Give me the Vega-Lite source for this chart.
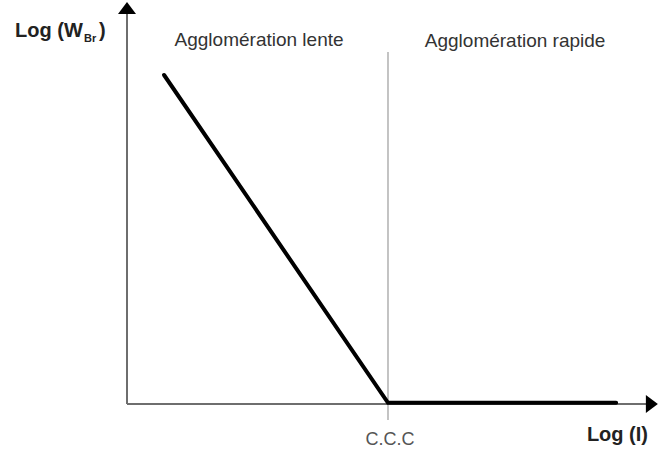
{
  "$schema": "https://vega.github.io/schema/vega-lite/v6.json",
  "width": 658,
  "height": 455,
  "autosize": {"type": "fit", "contains": "padding"},
  "padding": 0,
  "background": "white",
  "config": {"view": {"stroke": null}, "font": "Liberation Sans"},
  "encoding": {
    "x": {"field": "x", "type": "quantitative", "axis": null, "scale": {"domain": [-4.866, 20.345], "nice": false, "zero": false}},
    "y": {"field": "y", "type": "quantitative", "axis": null, "scale": {"domain": [-1.275, 10.1], "nice": false, "zero": false}}
  },
  "layer": [
    {
      "data": {"values": [{"x": 10, "y": -0.4, "x2": 10, "y2": 8.8}]},
      "mark": {"type": "rule", "color": "#b0b0b0", "strokeWidth": 1.5},
      "encoding": {"x2": {"field": "x2"}, "y2": {"field": "y2"}}
    },
    {
      "data": {"values": [{"x": 0, "y": 0, "x2": 20.0, "y2": 0}, {"x": 0, "y": 0, "x2": 0, "y2": 9.75}]},
      "mark": {"type": "rule", "color": "#6e6e6e", "strokeWidth": 2},
      "encoding": {"x2": {"field": "x2"}, "y2": {"field": "y2"}}
    },
    {
      "data": {"values": [{"x": 1.42, "y": 8.225, "o": 1}, {"x": 10, "y": 0.03, "o": 2}, {"x": 18.74, "y": 0.03, "o": 3}]},
      "mark": {"type": "line", "color": "#000000", "strokeWidth": 4, "strokeCap": "round", "strokeJoin": "miter"},
      "encoding": {"order": {"field": "o"}}
    },
    {
      "data": {"values": [{"x": 0, "y": 9.9}]},
      "mark": {"type": "point", "filled": true, "color": "#000000", "opacity": 1, "size": 324, "shape": "M0,-0.667L-1,0.667L1,0.667Z"}
    },
    {
      "data": {"values": [{"x": 20.11, "y": 0}]},
      "mark": {"type": "point", "filled": true, "color": "#000000", "opacity": 1, "size": 324, "shape": "M0.667,0L-0.667,-1L-0.667,1Z"}
    },
    {
      "data": {"values": [{"x": 5.06, "y": 8.95, "label": "Agglomération lente"}, {"x": 14.87, "y": 8.925, "label": "Agglomération rapide"}]},
      "mark": {"type": "text", "fontSize": 19, "color": "#333333", "align": "center", "baseline": "alphabetic"},
      "encoding": {"text": {"field": "label"}}
    },
    {
      "data": {"values": [{"x": 10.08, "y": -1.025, "label": "C.C.C"}]},
      "mark": {"type": "text", "fontSize": 18, "color": "#555555", "align": "center", "baseline": "alphabetic"},
      "encoding": {"text": {"field": "label"}}
    },
    {
      "data": {"values": [{"x": -4.29, "y": 9.175, "label": "Log (W"}, {"x": -1.07, "y": 9.175, "label": ")"}, {"x": 17.62, "y": -0.925, "label": "Log (I)"}]},
      "mark": {"type": "text", "fontSize": 20, "fontWeight": "bold", "color": "#222222", "align": "left", "baseline": "alphabetic"},
      "encoding": {"text": {"field": "label"}}
    },
    {
      "data": {"values": [{"x": -1.65, "y": 9.05, "label": "Br"}]},
      "mark": {"type": "text", "fontSize": 11, "fontWeight": "bold", "color": "#222222", "align": "left", "baseline": "alphabetic"},
      "encoding": {"text": {"field": "label"}}
    }
  ]
}
